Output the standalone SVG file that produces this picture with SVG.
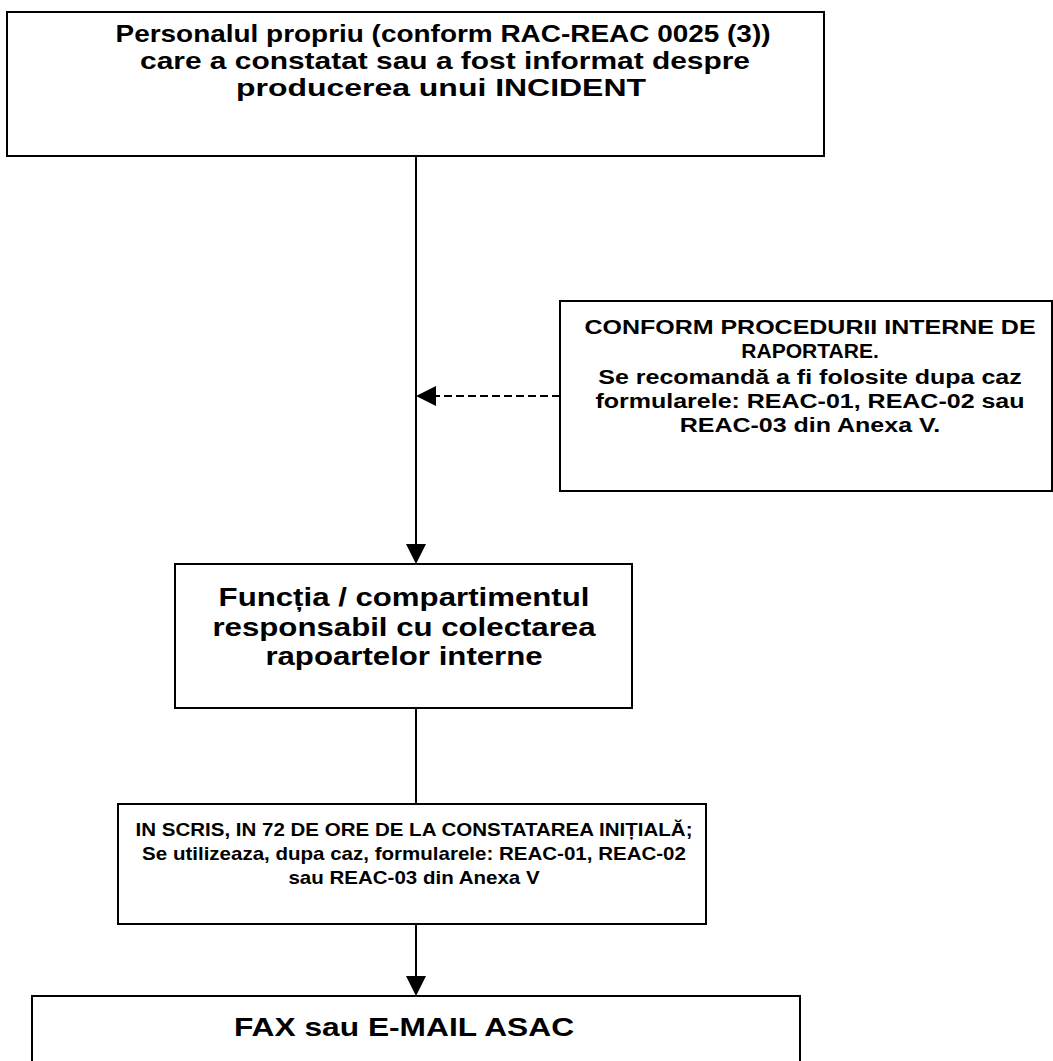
<svg xmlns="http://www.w3.org/2000/svg" width="1053" height="1061" viewBox="0 0 1053 1061">
<style>
.box{fill:#fff;stroke:#000;stroke-width:2}
.t{font-family:"Liberation Sans",Arial,sans-serif;font-weight:bold;text-anchor:middle;fill:#000}
.ln{stroke:#000;stroke-width:2;fill:none}
</style>
<rect width="1053" height="1061" fill="#fff"/>
<g id="n1">
<rect class="box" x="7" y="12" width="817" height="144"/>
<text class="t" font-size="24" x="443" y="42" textLength="655" lengthAdjust="spacingAndGlyphs">Personalul propriu (conform RAC-REAC 0025 (3))</text>
<text class="t" font-size="24" x="445" y="69" textLength="610" lengthAdjust="spacingAndGlyphs">care a constatat sau a fost informat despre</text>
<text class="t" font-size="24" x="441" y="96" textLength="410" lengthAdjust="spacingAndGlyphs">producerea unui INCIDENT</text>
</g>
<g id="n2">
<rect class="box" x="560" y="301" width="492" height="190"/>
<g transform="translate(810,0) scale(1.25,1)">
<text class="t" font-size="20" x="0" y="334">CONFORM PROCEDURII INTERNE DE</text>
<text class="t" font-size="20" x="0" y="358" textLength="110" lengthAdjust="spacingAndGlyphs">RAPORTARE.</text>
<text class="t" font-size="20" x="0" y="384">Se recomandă a fi folosite dupa caz</text>
<text class="t" font-size="20" x="0" y="408">formularele: REAC-01, REAC-02 sau</text>
<text class="t" font-size="20" x="0" y="432">REAC-03 din Anexa V.</text>
</g>
</g>
<g id="n3">
<rect class="box" x="175" y="564" width="457" height="144"/>
<g transform="translate(404,0) scale(1.2,1)">
<text class="t" font-size="26" x="0" y="606">Funcția / compartimentul</text>
<text class="t" font-size="26" x="0" y="636">responsabil cu colectarea</text>
<text class="t" font-size="26" x="0" y="665">rapoartelor interne</text>
</g>
</g>
<g id="n4">
<rect class="box" x="118" y="804" width="588" height="120"/>
<g transform="translate(414,0) scale(1.14,1)">
<text class="t" font-size="18" x="0" y="836">IN SCRIS, IN 72 DE ORE DE LA CONSTATAREA INIȚIALĂ;</text>
<text class="t" font-size="18" x="0" y="860">Se utilizeaza, dupa caz, formularele: REAC-01, REAC-02</text>
<text class="t" font-size="18" x="0" y="884">sau REAC-03 din Anexa V</text>
</g>
</g>
<g id="n5">
<rect class="box" x="32" y="996" width="768" height="80"/>
<g transform="translate(404,0) scale(1.22,1)">
<text class="t" font-size="26" x="0" y="1036">FAX sau E-MAIL ASAC</text>
</g>
</g>
<g id="connectors">
<line class="ln" x1="416" y1="156" x2="416" y2="546"/>
<polygon points="416,564 406,544 426,544" fill="#000"/>
<line class="ln" x1="560" y1="396" x2="434" y2="396" stroke-dasharray="8,4"/>
<polygon points="416,396 436,386 436,406" fill="#000"/>
<line class="ln" x1="416" y1="708" x2="416" y2="804"/>
<line class="ln" x1="416" y1="924" x2="416" y2="978"/>
<polygon points="416,996 406,976 426,976" fill="#000"/>
</g>
</svg>
